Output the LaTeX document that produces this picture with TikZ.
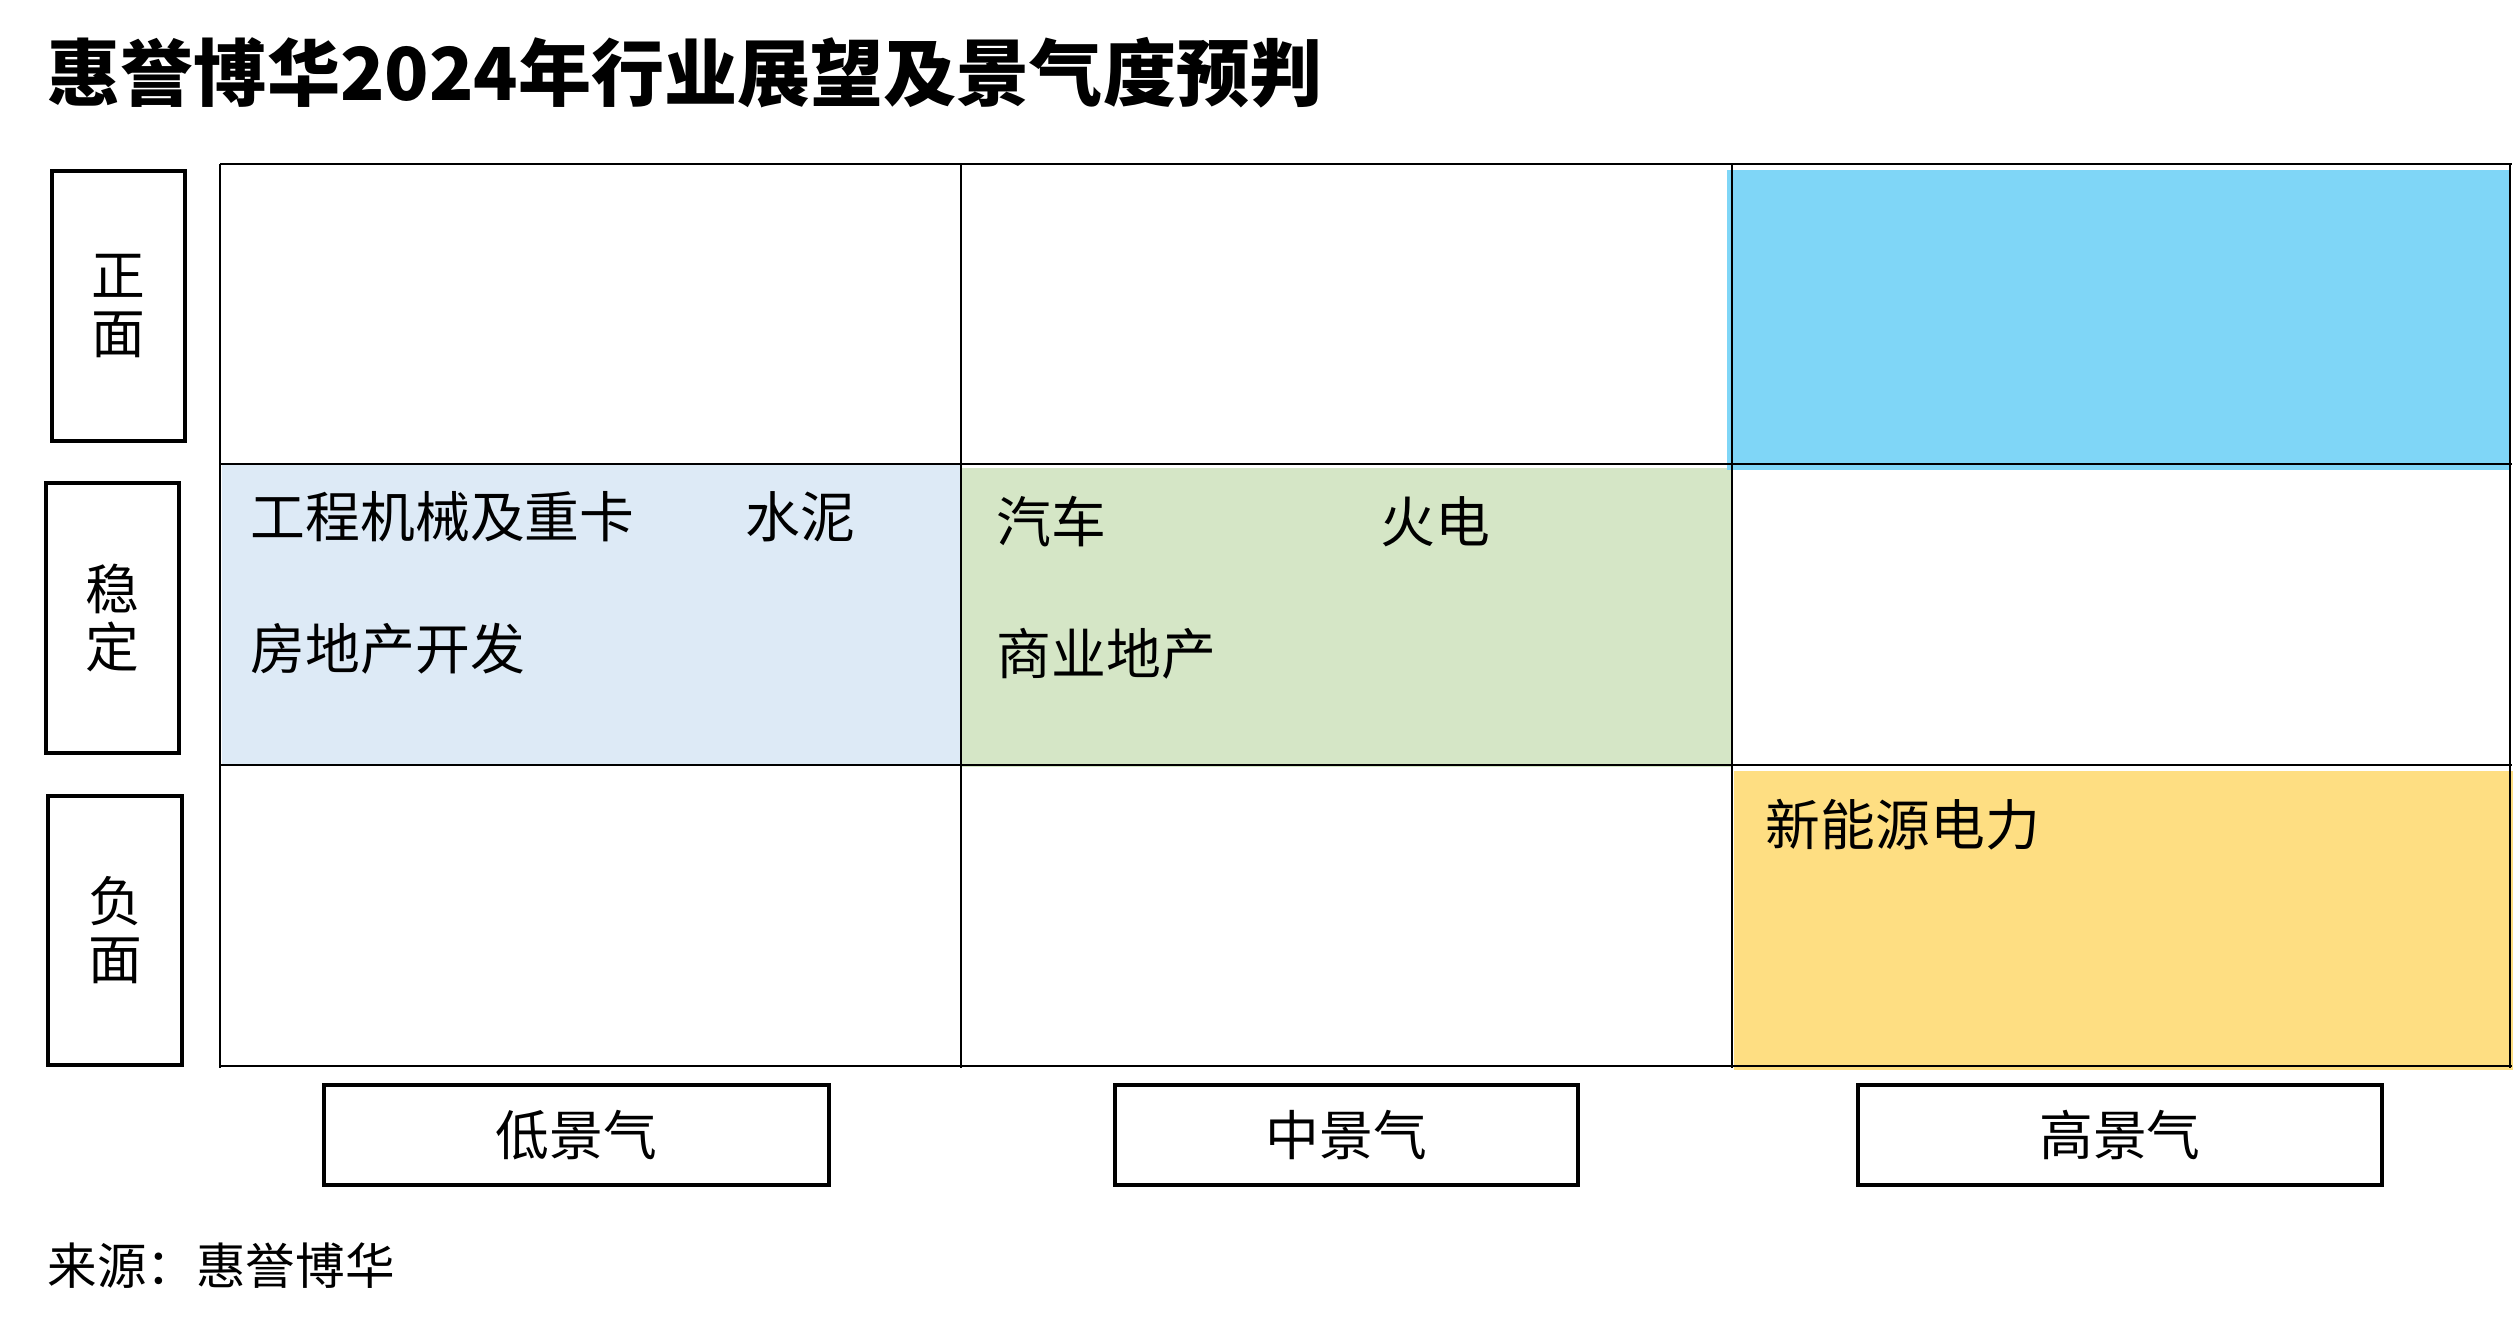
\documentclass[tikz,border=0pt]{standalone}
\usepackage{fontspec}
\setmainfont{Noto Sans CJK SC}
\definecolor{lowblue}{HTML}{DDEAF6}
\definecolor{midgreen}{HTML}{D5E6C6}
\definecolor{topblue}{HTML}{7FD6F7}
\definecolor{newyellow}{HTML}{FEDE82}
\begin{document}
\begin{tikzpicture}[x=0.1mm,y=-0.1mm,
	labelbox/.style={draw,line width=1pt,inner sep=0pt,align=center,
		font=\fontsize{15.3pt}{16.5pt}\selectfont},
	celltext/.style={anchor=west,inner sep=0pt,font=\fontsize{15.6pt}{18pt}\selectfont}]
	\useasboundingbox (0,0) rectangle (2515,1323);
	\node[anchor=west,inner sep=0pt,font=\fontsize{20.8pt}{24pt}\selectfont\bfseries] (title)
		at (47,73) {惠誉博华2024年行业展望及景气度预判};
	\fill[lowblue] (222,464) rectangle (961,765);
	\fill[midgreen] (961,468) rectangle (1733,767);
	\fill[topblue] (1727,170) rectangle (2511,470);
	\fill[newyellow] (1734,771) rectangle (2513,1070);
	\draw[line width=0.6pt]
		\foreach \y in {164,464,765,1066}{(220,\y)--(2512,\y)};
	\draw[line width=0.4pt]
		\foreach \x in {220,961,1732,2510}{(\x,164)--(\x,1068)};
	\node[labelbox,minimum width=13.3mm,minimum height=27mm] (pos) at (118.5,306) {正\\面};
	\node[labelbox,minimum width=13.3mm,minimum height=27mm] (stable) at (112.5,618) {稳\\定};
	\node[labelbox,minimum width=13.4mm,minimum height=26.9mm] (neg) at (115,930.5) {负\\面};
	\node[labelbox,minimum width=50.5mm,minimum height=10mm] (low) at (576.5,1135) {低景气};
	\node[labelbox,minimum width=46.3mm,minimum height=10mm] (mid) at (1346.5,1135) {中景气};
	\node[labelbox,minimum width=52.4mm,minimum height=10mm] (high) at (2120,1135) {高景气};
	\node[celltext] (machinery) at (250,517) {工程机械及重卡};
	\node[celltext] (cement) at (745,517) {水泥};
	\node[celltext] (property) at (250,649) {房地产开发};
	\node[celltext] (auto) at (996,522) {汽车};
	\node[celltext] (thermal) at (1380,522) {火电};
	\node[celltext] (commercial) at (996,654) {商业地产};
	\node[celltext] (renewable) at (1765,825) {新能源电力};
	\node[anchor=west,inner sep=0pt,font=\fontsize{14.1pt}{16pt}\selectfont] (source)
		at (47,1266) {来源：惠誉博华};
\end{tikzpicture}
\end{document}
